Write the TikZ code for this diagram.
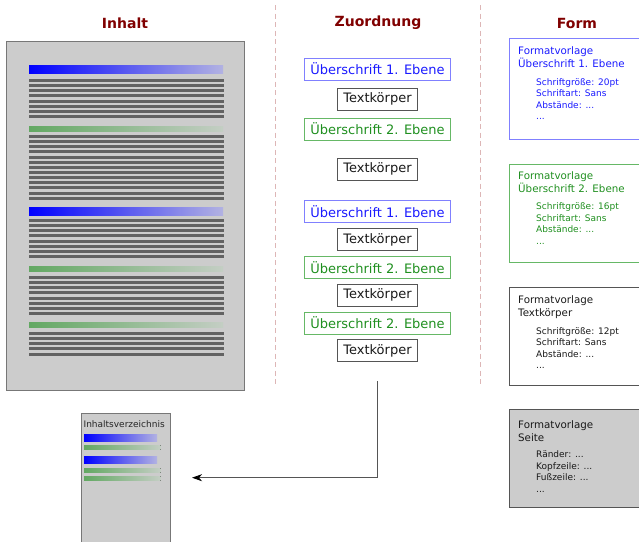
\documentclass[tikz,border=0pt]{standalone}
\usepackage{fontspec}
\setmainfont{DejaVu Sans}
\usetikzlibrary{arrows.meta}
\definecolor{headred}{HTML}{800000}
\definecolor{hblue}{HTML}{1A1AFF}
\definecolor{hblueline}{HTML}{8080FF}
\definecolor{hgreen}{HTML}{1F8F1F}
\definecolor{hgreenline}{HTML}{66B866}
\definecolor{pagegray}{HTML}{CCCCCC}
\definecolor{pageline}{HTML}{777777}
\definecolor{textgray}{HTML}{626262}
\definecolor{boxgray}{HTML}{555555}
\definecolor{sepred}{HTML}{DDB6B6}
\definecolor{blueend}{HTML}{B2B2E2}
\definecolor{greenstart}{HTML}{62A862}
\definecolor{greenend}{HTML}{C4CEC4}
\newcommand{\lpitch}{5.14}
\newcommand{\bigfont}{\fontsize{13}{15}\selectfont}
\newcommand{\midfont}{\fontsize{10.3}{13}\selectfont}
\newcommand{\smallfont}{\fontsize{9}{11.6}\selectfont}

\begin{document}
\begin{tikzpicture}[x=1pt, y=-1pt,
    head/.style={font=\bfseries\fontsize{14}{16}\selectfont, text=headred},
    ebene1/.style={draw=hblueline, text=hblue, font=\bigfont,
      minimum width=146pt, minimum height=22pt, line width=0.8pt},
    ebene2/.style={draw=hgreenline, text=hgreen, font=\bigfont,
      minimum width=146pt, minimum height=22pt, line width=0.8pt},
    body/.style={draw=boxgray, text=black!90, font=\bigfont,
      minimum width=80pt, minimum height=22pt, line width=0.8pt},
    fmtbox/.style={draw=#1, anchor=north west, minimum width=150pt,
      inner sep=0pt, line width=0.8pt},
    fmthead/.style={anchor=north west, inner sep=0pt, align=left, font=\midfont},
    fmtlist/.style={anchor=north west, inner sep=0pt, align=left, font=\smallfont},
    textline/.style={line width=3pt, textgray},
    sep/.style={sepred, line width=1pt, dash pattern=on 5pt off 3.5pt}]
  \path[use as bounding box] (0,0) rectangle (639,541);
  \clip (0,0) rectangle (639,541);

  % headings and separators
  \node[head] (hinhalt) at (125,23) {Inhalt};
  \node[head] (hzuord) at (378,23) {Zuordnung};
  \node[head] (hform) at (577,23) {Form};
  \draw[sep] (275,5) -- (275,385);
  \draw[sep] (480,5) -- (480,385);

  % content page
  \node[draw=pageline, fill=pagegray, line width=1pt, anchor=north west,
    minimum width=238pt, minimum height=349pt] (page) at (6,41) {};
  \fill[left color=blue, right color=blueend] (29,65) rectangle (223,73);
  \fill[left color=greenstart, right color=greenend] (29,126) rectangle (223,131);
  \fill[left color=blue, right color=blueend] (29,207) rectangle (223,215);
  \fill[left color=greenstart, right color=greenend] (29,266) rectangle (223,271);
  \fill[left color=greenstart, right color=greenend] (29,322) rectangle (223,327);
  \foreach \y/\n in {80.5/8, 136.5/13, 220.5/8, 277.5/8, 333.5/5}
    \foreach \i in {1,...,\n}
      \draw[textline] (29,{\y+\lpitch*(\i-1)}) -- (224,{\y+\lpitch*(\i-1)});

  % assignment column
  \node[ebene1] (ue1a) at (377.5,69) {Überschrift 1. Ebene};
  \node[body] (tk1) at (377.5,99) {Textkörper};
  \node[ebene2] (ue2a) at (377.5,129) {Überschrift 2. Ebene};
  \node[body] (tk2) at (377.5,169) {Textkörper};
  \node[ebene1] (ue1b) at (377.5,211.5) {Überschrift 1. Ebene};
  \node[body] (tk3) at (377.5,239.5) {Textkörper};
  \node[ebene2] (ue2b) at (377.5,267.5) {Überschrift 2. Ebene};
  \node[body] (tk4) at (377.5,295) {Textkörper};
  \node[ebene2] (ue2c) at (377.5,323) {Überschrift 2. Ebene};
  \node[body] (tk5) at (377.5,350.5) {Textkörper};

  % style sheets
  \node[fmtbox=hblueline, minimum height=101pt] (fmt1) at (508.5,37.5) {};
  \node[fmthead, text=hblue] (fmt1h) at (518,46)
    {Formatvorlage\\Überschrift 1. Ebene};
  \node[fmtlist, text=hblue] (fmt1l) at (536,78)
    {Schriftgröße: 20pt\\Schriftart: Sans\\Abstände: ...\\...};

  \node[fmtbox=hgreenline, minimum height=98pt] (fmt2) at (508.5,163.5) {};
  \node[fmthead, text=hgreen] (fmt2h) at (518,171)
    {Formatvorlage\\Überschrift 2. Ebene};
  \node[fmtlist, text=hgreen] (fmt2l) at (536,202.5)
    {Schriftgröße: 16pt\\Schriftart: Sans\\Abstände: ...\\...};

  \node[fmtbox=boxgray, minimum height=98pt] (fmt3) at (508.5,287) {};
  \node[fmthead, text=black!90] (fmt3h) at (518,295)
    {Formatvorlage\\Textkörper};
  \node[fmtlist, text=black!90] (fmt3l) at (536,327)
    {Schriftgröße: 12pt\\Schriftart: Sans\\Abstände: ...\\...};

  \node[fmtbox=boxgray, fill=pagegray, minimum height=98pt] (fmt4) at (508.5,408.5) {};
  \node[fmthead, text=black!90] (fmt4h) at (518,420)
    {Formatvorlage\\Seite};
  \node[fmtlist, text=black!90] (fmt4l) at (536,450.5)
    {Ränder: ...\\Kopfzeile: ...\\Fußzeile: ...\\...};

  % table of contents
  \node[draw=pageline, fill=pagegray, line width=1pt, anchor=north west,
    minimum width=88.5pt, minimum height=140pt] (toc) at (81,412.5) {};
  \node[font=\smallfont, text=black!85] (toctitle) at (124.2,424) {Inhaltsverzeichnis};
  \fill[left color=blue, right color=blueend] (84,434) rectangle (157,441.7);
  \fill[left color=greenstart, right color=greenend] (84,445.3) rectangle (160.7,449.7);
  \fill[left color=blue, right color=blueend] (84,456) rectangle (157,463.3);
  \fill[left color=greenstart, right color=greenend] (84,468) rectangle (160.7,472.7);
  \fill[left color=greenstart, right color=greenend] (84,476) rectangle (160.7,480.7);

  \coordinate (arrfrom) at (377.5,381);
  \coordinate (arrto) at (192,477.7);
  \draw[-{Stealth[length=10pt, width=7pt, inset=3pt, color=black]}, boxgray, line width=0.9pt]
    (arrfrom) |- (arrto);
\end{tikzpicture}
\end{document}
